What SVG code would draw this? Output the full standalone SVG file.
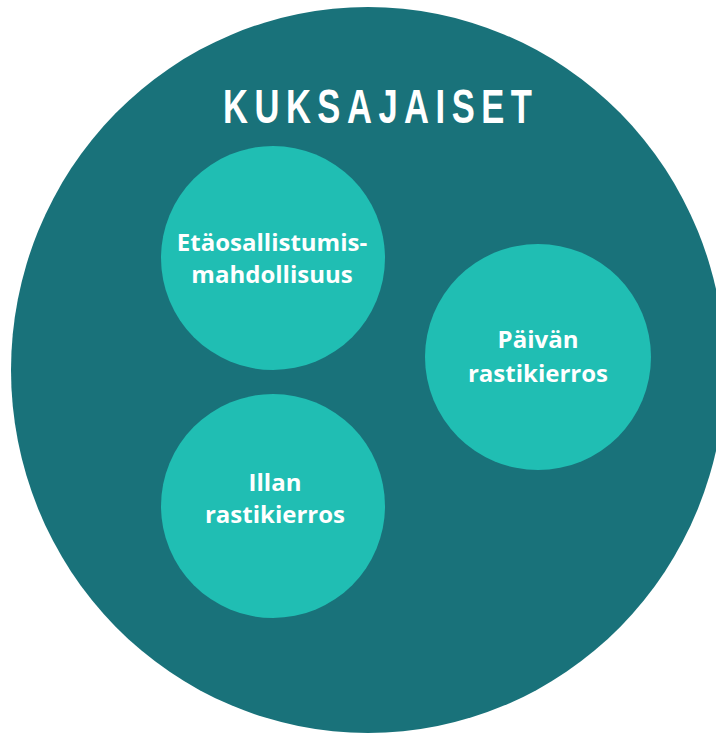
<svg xmlns="http://www.w3.org/2000/svg" width="716" height="736" viewBox="0 0 716 736">
<style>
.outer{fill:#19727A}
.inner{fill:#20BEB3}
.lbl{font-family:"Open Sans","Noto Sans","Liberation Sans",sans-serif;font-weight:bold;font-size:24px;fill:#ffffff;text-anchor:middle}
.title{font-family:"Liberation Sans",Arial,sans-serif;font-weight:bold;font-size:48px;fill:#ffffff}
</style>
<rect width="716" height="736" fill="#ffffff"/>
<g id="kuksajaiset">
<ellipse class="outer" cx="368" cy="370" rx="357" ry="363"/>
<text class="title" transform="translate(223,123) scale(0.72,1)" x="0" y="0" textLength="429" lengthAdjust="spacing">KUKSAJAISET</text>
</g>
<g id="etaosallistumis">
<circle class="inner" cx="273" cy="258" r="112"/>
<text class="lbl" x="272" y="251">Etäosallistumis-</text>
<text class="lbl" x="272" y="283">mahdollisuus</text>
</g>
<g id="paivan">
<circle class="inner" cx="538" cy="357" r="113"/>
<text class="lbl" x="538" y="348">Päivän</text>
<text class="lbl" x="538" y="382">rastikierros</text>
</g>
<g id="illan">
<circle class="inner" cx="273" cy="506" r="112"/>
<text class="lbl" x="275" y="491">Illan</text>
<text class="lbl" x="275" y="523">rastikierros</text>
</g>
<g id="connectors"></g>
</svg>
